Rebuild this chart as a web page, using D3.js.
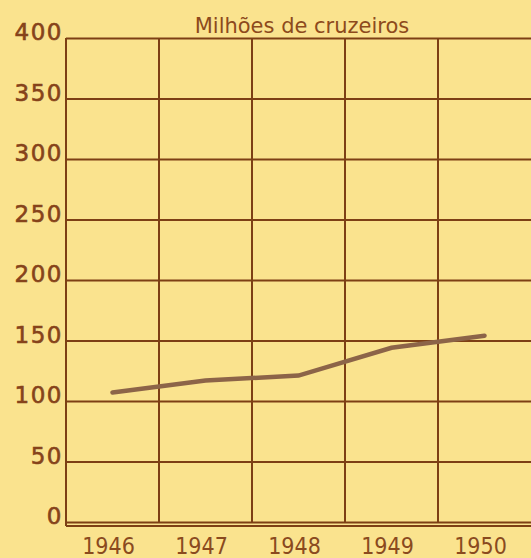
<!DOCTYPE html>
<html>
<head>
<meta charset="utf-8">
<script src="https://cdn.jsdelivr.net/npm/d3@7"></script>
<style>
  body { margin: 0; background: #fae38e; }
  svg { display: block; }
  .ylab { font-family: "DejaVu Sans", sans-serif; font-size: 23px; letter-spacing: 1.5px; stroke: #86431a; stroke-width: 0.6px; fill: #86431a; }
  .xlab { font-family: "DejaVu Sans Condensed", "DejaVu Sans", sans-serif; font-size: 23px; fill: #8a4a1e; }
  .title { font-family: "DejaVu Sans", sans-serif; font-size: 21px; fill: #8d4a1c; }
</style>
</head>
<body>
<div class="chart"></div>
<script>
var years = ["1946", "1947", "1948", "1949", "1950"];
var values = [107, 117, 121, 144, 154];
var yTicks = [0, 50, 100, 150, 200, 250, 300, 350, 400];

var svgWidth = 531;
var svgHeight = 558;
var margin = { top: 38, right: 0, bottom: 36, left: 66 };
var width = svgWidth - margin.left - margin.right;
var height = svgHeight - margin.top - margin.bottom;

var svg = d3.select(".chart")
  .append("svg")
  .attr("width", svgWidth)
  .attr("height", svgHeight);

svg.append("rect")
  .attr("width", svgWidth)
  .attr("height", svgHeight)
  .attr("fill", "#fae38e");

var chartGroup = svg.append("g")
  .attr("transform", `translate(${margin.left}, ${margin.top})`);

var xScale = d3.scaleBand()
  .domain(years)
  .range([0, width])
  .padding(0);

var yScale = d3.scaleLinear()
  .domain([0, 400])
  .range([height, 0]);

var lineColor = "#7d3f14";

// horizontal grid
var yGrid = chartGroup.append("g")
  .call(d3.axisLeft(yScale).tickValues(yTicks).tickSize(-width).tickFormat(""));
yGrid.select(".domain").remove();
yGrid.selectAll("line")
  .attr("stroke", lineColor)
  .attr("stroke-width", 2);

// second baseline under the zero line
chartGroup.append("line")
  .attr("x1", 0)
  .attr("x2", width)
  .attr("y1", yScale(0) + 4)
  .attr("y2", yScale(0) + 4)
  .attr("stroke", lineColor)
  .attr("stroke-width", 2);

// vertical grid at band edges
chartGroup.selectAll(".vline")
  .data(years)
  .enter()
  .append("line")
  .attr("class", "vline")
  .attr("x1", d => xScale(d))
  .attr("x2", d => xScale(d))
  .attr("y1", 0)
  .attr("y2", d => d === years[0] ? yScale(0) + 4 : yScale(0))
  .attr("stroke", lineColor)
  .attr("stroke-width", 2);

// y labels
chartGroup.selectAll(".ylab")
  .data(yTicks)
  .enter()
  .append("text")
  .attr("class", "ylab")
  .attr("x", -3)
  .attr("y", d => yScale(d) + 2)
  .attr("text-anchor", "end")
  .text(d => d);

// x labels
chartGroup.selectAll(".xlab")
  .data(years)
  .enter()
  .append("text")
  .attr("class", "xlab")
  .attr("x", d => xScale(d) + xScale.bandwidth() / 2 - 4)
  .attr("y", height + 32)
  .attr("text-anchor", "middle")
  .text(d => d);

// title
svg.append("text")
  .attr("class", "title")
  .attr("x", 302)
  .attr("y", 33)
  .attr("text-anchor", "middle")
  .text("Milhões de cruzeiros");

// data line
var line = d3.line()
  .x(d => xScale(d.year) + xScale.bandwidth() / 2)
  .y(d => yScale(d.value));

var data = years.map((y, i) => ({ year: y, value: values[i] }));

chartGroup.append("path")
  .datum(data)
  .attr("d", line)
  .attr("fill", "none")
  .attr("stroke", "#8c6448")
  .attr("stroke-width", 4.5)
  .attr("stroke-linecap", "round");
</script>
</body>
</html>
